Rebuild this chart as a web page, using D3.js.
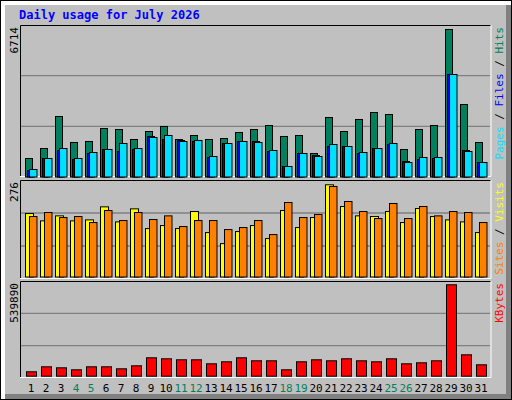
<!DOCTYPE html><html><head><meta charset="utf-8">
<script src="https://cdn.jsdelivr.net/npm/d3@7"></script>
<style>body{margin:0;background:#fff}svg{display:block}</style></head><body>
<svg id="c" width="512" height="400"></svg>
<script>
const days = d3.range(1,32);
const weekends = [4,5,11,12,18,19,25,26];
const hits = [842,1297,2754,1570,1616,2208,2162,1707,2071,2299,1707,1889,1707,1752,2026,2162,2344,1844,1889,1070,2708,2071,2617,2936,2845,1252,2162,2344,6714,3300,1570];
const files = [296,842,1206,797,1070,1252,1161,1252,1844,1707,1661,1616,888,1525,1616,1616,1161,478,1070,979,1388,1388,1070,1297,1479,706,797,842,4666,1206,660];
const pages = [341,842,1297,842,1115,1252,1525,1297,1798,1889,1616,1661,933,1525,1616,1570,1206,478,1070,933,1479,1388,1115,1297,1525,660,888,888,4666,1161,660];
const visits = [190,168,183,168,171,210,165,204,145,154,145,196,133,100,136,154,115,199,148,178,276,211,183,181,196,163,205,181,171,165,133];
const sites = [181,193,178,181,163,199,169,193,172,183,151,169,169,142,148,169,127,223,178,187,271,226,196,175,220,175,211,183,196,193,163];
const kbytes = [26000,55500,49600,37800,55500,55500,43700,61400,108700,102800,96900,96900,73200,85100,108700,91000,91000,37800,85100,96900,91000,102800,91000,85100,102800,73200,79200,91000,539890,126400,67300];

const svg = d3.select("#c");
const mono = "DejaVu Sans Mono, monospace";
// background and 3D frame
svg.append("rect").attr("x",0).attr("y",0).attr("width",512).attr("height",400).attr("fill","#000");
svg.append("rect").attr("x",1).attr("y",1).attr("width",510).attr("height",398).attr("fill","#fff");
svg.append("rect").attr("x",5).attr("y",5).attr("width",506).attr("height",394).attr("fill","#808080");
svg.append("rect").attr("x",5).attr("y",5).attr("width",501).attr("height",389).attr("fill","#c0c0c0");

svg.append("text").attr("x",19).attr("y",19).attr("fill","#0000ff").attr("font-family",mono)
  .attr("font-weight","bold").attr("font-size",12).text("Daily usage for July 2026");

const x = d3.scaleLinear().domain([1,2]).range([25,40]);

function panel(top,bottom,barBottom,barTop,max,label,legend){
  svg.append("rect").attr("x",20).attr("y",top).attr("width",471).attr("height",bottom-top).attr("fill","#c0c0c0");
  const y = d3.scaleLinear().domain([0,max]).range([barBottom,barTop]);
  const h=(bottom-top)/3;
  [1,2].forEach(i=>svg.append("line").attr("x1",21).attr("x2",490).attr("y1",top+h*i).attr("y2",top+h*i).attr("stroke","#808080").attr("stroke-width",1.3));
  svg.append("path").attr("d",`M20.5,${bottom}V${top+0.5}H491`).attr("fill","none").attr("stroke","#000");
  svg.append("path").attr("d",`M491,${top}V${bottom-0.5}H20`).attr("fill","none").attr("stroke","#fff");
  svg.append("text").attr("transform",`translate(18,${top+2}) rotate(-90)`).attr("text-anchor","end")
    .attr("font-family",mono).attr("font-size",11).attr("fill","#000").text(label);
  const t=svg.append("text").attr("transform",`translate(503,${top+2}) rotate(-90)`).attr("text-anchor","end")
    .attr("font-family",mono).attr("font-size",11);
  legend.forEach(([s,c])=>t.append("tspan").attr("fill",c).text(s));
  return y;
}
function bars(y,data,dx,w,color){
  svg.append("g").selectAll("rect").data(data).join("rect")
    .attr("x",(d,i)=>x(i+1)+dx+0.5).attr("y",d=>y(d)+0.5).attr("width",w)
    .attr("height",d=>Math.max(0,y(0)-y(d))).attr("fill",color).attr("stroke","#000");
}
const y1 = panel(25,177,176.5,29,6714,"6714",[["Pages","#00e0ff"],[" / ","#000"],["Files","#0000ff"],[" / ","#000"],["Hits","#00805c"]]);
bars(y1,hits,0,7,"#00805c");
bars(y1,files,2,7,"#0000ff");
bars(y1,pages,4,7.5,"#00e0ff");
const y2 = panel(180,279,276.5,184.3,276,"276",[["Sites","#ff8000"],[" / ","#000"],["Visits","#ffff00"]]);
bars(y2,visits,0,8,"#ffff00");
bars(y2,sites,4,7.5,"#ff8000");
const y3 = panel(281,378,375.7,284.3,539890,"539890",[["KBytes","#ff0000"]]);
bars(y3,kbytes,1,10,"#ff0000");

svg.append("g").selectAll("text").data(days).join("text")
  .attr("x",d=>x(d)+6).attr("y",392).attr("text-anchor","middle").attr("font-family",mono).attr("font-size",11)
  .attr("fill",d=>weekends.includes(d)?"#00805c":"#000").text(d=>d);
</script></body></html>
